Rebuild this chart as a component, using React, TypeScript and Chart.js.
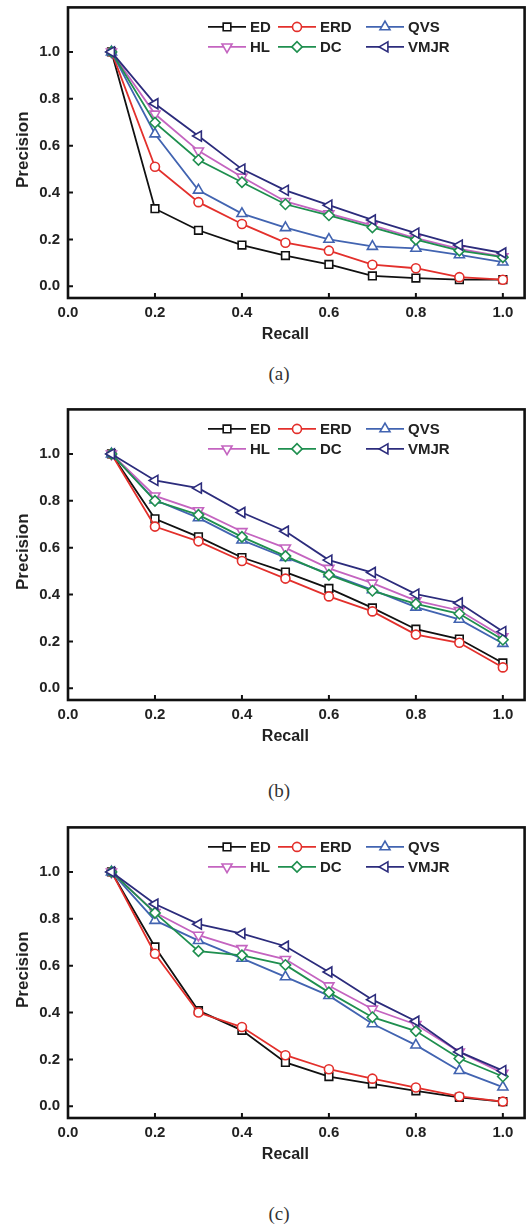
import React, { useEffect, useRef } from 'react';
import { Chart, registerables } from 'chart.js';
import { drawPoint } from 'chart.js/helpers';

Chart.register(...registerables);

// ---------- data ----------
const recall = [0.1, 0.2, 0.3, 0.4, 0.5, 0.6, 0.7, 0.8, 0.9, 1.0];
const tickValues = [0, 0.2, 0.4, 0.6, 0.8, 1.0];
const seriesNames = ['ED', 'ERD', 'QVS', 'HL', 'DC', 'VMJR'];
const xTitle = 'Recall';
const yTitle = 'Precision';
const captions = ['(a)', '(b)', '(c)'];

// panel (a)
const aED = [1.0, 0.331, 0.239, 0.176, 0.131, 0.093, 0.044, 0.035, 0.028, 0.028];
const aERD = [1.0, 0.51, 0.359, 0.266, 0.186, 0.152, 0.092, 0.077, 0.039, 0.028];
const aQVS = [1.0, 0.65, 0.41, 0.31, 0.25, 0.2, 0.17, 0.162, 0.134, 0.103];
const aHL = [1.0, 0.735, 0.578, 0.466, 0.362, 0.31, 0.26, 0.205, 0.16, 0.126];
const aDC = [1.0, 0.698, 0.539, 0.444, 0.35, 0.303, 0.251, 0.199, 0.152, 0.124];
const aVMJR = [1.0, 0.779, 0.641, 0.5, 0.409, 0.346, 0.283, 0.227, 0.176, 0.142];

// panel (b)
const bED = [1.0, 0.723, 0.646, 0.558, 0.496, 0.426, 0.343, 0.252, 0.21, 0.108];
const bERD = [1.0, 0.69, 0.627, 0.543, 0.468, 0.392, 0.328, 0.229, 0.194, 0.089];
const bQVS = [1.0, 0.803, 0.727, 0.632, 0.558, 0.488, 0.42, 0.346, 0.294, 0.191];
const bHL = [1.0, 0.821, 0.758, 0.669, 0.599, 0.512, 0.449, 0.374, 0.332, 0.22];
const bDC = [1.0, 0.8, 0.74, 0.646, 0.564, 0.484, 0.416, 0.36, 0.318, 0.207];
const bVMJR = [1.0, 0.887, 0.854, 0.75, 0.67, 0.547, 0.494, 0.402, 0.364, 0.242];

// panel (c)
const cED = [1.0, 0.68, 0.408, 0.324, 0.187, 0.127, 0.096, 0.066, 0.038, 0.02];
const cERD = [1.0, 0.651, 0.4, 0.338, 0.218, 0.158, 0.118, 0.08, 0.042, 0.02];
const cQVS = [1.0, 0.793, 0.707, 0.631, 0.552, 0.472, 0.352, 0.261, 0.152, 0.082];
const cHL = [1.0, 0.827, 0.73, 0.673, 0.627, 0.514, 0.415, 0.349, 0.232, 0.141];
const cDC = [1.0, 0.825, 0.662, 0.644, 0.603, 0.486, 0.38, 0.321, 0.204, 0.127];
const cVMJR = [1.0, 0.863, 0.777, 0.737, 0.683, 0.573, 0.455, 0.363, 0.232, 0.152];

const panelSeries = [
  [aED, aERD, aQVS, aHL, aDC, aVMJR],
  [bED, bERD, bQVS, bHL, bDC, bVMJR],
  [cED, cERD, cQVS, cHL, cDC, cVMJR],
];

// ---------- styles ----------
const seriesColors = ['#111111', '#e3302c', '#4264b1', '#c464c0', '#1f8f4f', '#2c2c7c'];
const pointStyles = ['rect', 'circle', 'triangle', 'triangle', 'rectRot', 'triangle'];
const pointRotations = [0, 0, 0, 180, 0, 270];
const pointRadii = [5.4, 4.5, 5.8, 5.8, 5.2, 5.8];

const FONT = '"Liberation Sans", Arial, Helvetica, sans-serif';
const frameTops = [4, 406, 824];
const captionYs = [373, 790, 1213];
const FRAME_H = 294;
const CANVAS_W = 532;
const CANVAS_H = 348;
const PAD_TOP = 4;

const legendCols = [208, 278, 366];
const legendRows = [19.5, 39.5];
const legendLineLen = 38;

const decorPlugin = {
  id: 'decor',
  afterDraw(chart: any) {
    const { ctx, chartArea, scales } = chart;
    const { left, right, top, bottom } = chartArea;
    const xs = scales.x;
    const ys = scales.y;
    ctx.save();
    // frame
    ctx.strokeStyle = '#111';
    ctx.lineWidth = 2.6;
    ctx.strokeRect(left, top, right - left, bottom - top);
    // inward ticks
    ctx.lineWidth = 2;
    ctx.beginPath();
    tickValues.forEach((v) => {
      const py = ys.getPixelForValue(v);
      ctx.moveTo(left, py);
      ctx.lineTo(left + 5, py);
      const px = xs.getPixelForValue(v);
      ctx.moveTo(px, bottom);
      ctx.lineTo(px, bottom - 5);
    });
    ctx.stroke();
    // axis titles
    ctx.fillStyle = '#222';
    ctx.font = 'bold 16px ' + FONT;
    ctx.textAlign = 'center';
    ctx.textBaseline = 'middle';
    ctx.fillText(xTitle, xs.getPixelForValue(0.5), bottom + 37);
    ctx.save();
    ctx.translate(23, (top + bottom) / 2 - 3);
    ctx.rotate(-Math.PI / 2);
    ctx.font = 'bold 17px ' + FONT;
    ctx.fillText(yTitle, 0, 0);
    ctx.restore();
    // legend
    ctx.font = 'bold 15px ' + FONT;
    ctx.textAlign = 'left';
    chart.data.datasets.forEach((ds: any, i: number) => {
      const col = i % 3;
      const row = Math.floor(i / 3);
      const x0 = legendCols[col];
      const y0 = top + legendRows[row];
      ctx.strokeStyle = ds.borderColor;
      ctx.lineWidth = 1.8;
      ctx.beginPath();
      ctx.moveTo(x0, y0);
      ctx.lineTo(x0 + legendLineLen, y0);
      ctx.stroke();
      ctx.fillStyle = '#ffffff';
      ctx.strokeStyle = ds.borderColor;
      ctx.lineWidth = 1.6;
      drawPoint(ctx, {
        pointStyle: ds.pointStyle,
        rotation: ds.pointRotation,
        radius: ds.pointRadius,
        borderWidth: 1.6,
      } as any, x0 + legendLineLen / 2, y0);
      ctx.fillStyle = '#222';
      ctx.fillText(ds.label, x0 + legendLineLen + 4, y0 + 0.5);
    });
    ctx.restore();
  },
};

function Panel({ index }: { index: number }) {
  const ref = useRef<HTMLCanvasElement | null>(null);
  useEffect(() => {
    if (!ref.current) return;
    const series = panelSeries[index];
    const tickFont = { family: FONT, size: 15, weight: 'bold' as const };
    const chart = new Chart(ref.current, {
      type: 'line',
      data: {
        datasets: series.map((vals, i) => ({
          label: seriesNames[i],
          data: recall.map((x, j) => ({ x, y: vals[j] })),
          borderColor: seriesColors[i],
          backgroundColor: '#ffffff',
          borderWidth: 1.8,
          pointStyle: pointStyles[i] as any,
          pointRotation: pointRotations[i],
          pointRadius: pointRadii[i],
          pointBorderWidth: 1.6,
          pointBackgroundColor: '#ffffff',
          pointBorderColor: seriesColors[i],
          tension: 0,
          fill: false,
          order: 5 - i,
        })),
      },
      options: {
        animation: false,
        responsive: false,
        maintainAspectRatio: false,
        layout: { padding: { top: PAD_TOP, right: 3, left: 0, bottom: 0 } },
        plugins: { legend: { display: false }, tooltip: { enabled: false } },
        scales: {
          x: {
            type: 'linear',
            min: 0,
            max: 1.05,
            grid: { display: false, drawTicks: false },
            border: { display: false },
            afterBuildTicks: (s: any) => {
              s.ticks = tickValues.map((v) => ({ value: v }));
            },
            afterFit: (s: any) => {
              s.height = CANVAS_H - PAD_TOP - FRAME_H;
              s.paddingLeft = 0;
              s.paddingRight = 0;
            },
            ticks: {
              padding: 6,
              font: tickFont,
              color: '#222',
              maxRotation: 0,
              autoSkip: false,
              callback: (v: any) => Number(v).toFixed(1),
            },
          },
          y: {
            type: 'linear',
            min: -0.05,
            max: 1.19,
            grid: { display: false, drawTicks: false },
            border: { display: false },
            afterBuildTicks: (s: any) => {
              s.ticks = tickValues.map((v) => ({ value: v }));
            },
            afterFit: (s: any) => {
              s.width = 68;
              s.paddingTop = 0;
              s.paddingBottom = 0;
            },
            ticks: {
              padding: 8,
              font: tickFont,
              color: '#222',
              autoSkip: false,
              callback: (v: any) => Number(v).toFixed(1),
            },
          },
        },
      },
      plugins: [decorPlugin],
    });
    return () => chart.destroy();
  }, [index]);

  return (
    <>
      <canvas
        ref={ref}
        width={CANVAS_W}
        height={CANVAS_H}
        style={{
          position: 'absolute',
          left: 0,
          top: frameTops[index] - PAD_TOP,
          width: CANVAS_W,
          height: CANVAS_H,
          display: 'block',
        }}
      />
      <div
        style={{
          position: 'absolute',
          left: 279,
          top: captionYs[index],
          transform: 'translate(-50%, -50%)',
          fontFamily: '"Liberation Serif", "Times New Roman", serif',
          fontSize: 19,
          lineHeight: 1,
          color: '#333',
          whiteSpace: 'nowrap',
        }}
      >
        {captions[index]}
      </div>
    </>
  );
}

export default function App() {
  return (
    <div
      style={{
        position: 'absolute',
        left: 0,
        top: 0,
        width: 532,
        height: 1226,
        background: '#ffffff',
        overflow: 'hidden',
      }}
    >
      <Panel index={0} />
      <Panel index={1} />
      <Panel index={2} />
    </div>
  );
}
